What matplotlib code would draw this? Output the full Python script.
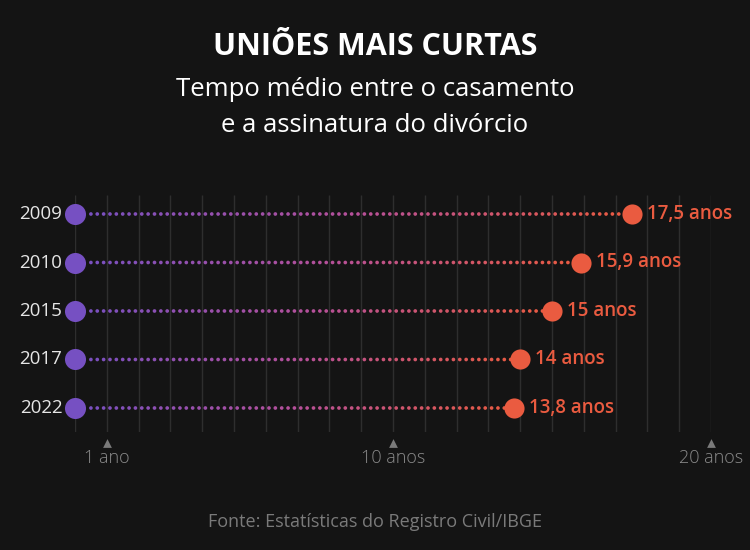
import numpy as np
import matplotlib
matplotlib.use("Agg")
import matplotlib.pyplot as plt
from matplotlib.colors import LinearSegmentedColormap
from matplotlib.transforms import blended_transform_factory

# ---- data ----
years = ["2009", "2010", "2015", "2017", "2022"]
start_values = [0, 0, 0, 0, 0]
end_values = [17.5, 15.9, 15.0, 14.0, 13.8]
value_labels = ["17,5 anos", "15,9 anos", "15 anos", "14 anos", "13,8 anos"]
axis_ticks = [1, 10, 20]
axis_labels = ["1 ano", "10 anos", "20 anos"]

BG = "#141414"
PURPLE = "#7650c2"
RED = "#ea5b40"
GRID = "#2e2e2e"
FONT = "Open Sans"

plt.rcParams["font.family"] = [FONT, "DejaVu Sans"]

fig = plt.figure(figsize=(7.5, 5.5), dpi=100, facecolor=BG)
W, H = 750, 550
x0, x1 = 75, 711
ytop, ybot = 195, 432
ax = fig.add_axes([x0 / W, 1 - ybot / H, (x1 - x0) / W, (ybot - ytop) / H])
ax.set_facecolor(BG)
ax.set_xlim(0, 20)
row_px = 48.5
ax.set_ylim(4 + (ybot - 408) / row_px, -(214 - ytop) / row_px)
for s in ax.spines.values():
    s.set_visible(False)
ax.set_xticks([])
ax.set_yticks([])

# vertical grid lines every year
ax.vlines(np.arange(0, 21), 0, 1, transform=blended_transform_factory(ax.transData, ax.transAxes),
          colors=GRID, linewidth=1.0, zorder=0)

cmap = LinearSegmentedColormap.from_list("pr", [PURPLE, "#b5509a", RED])
ypos = np.arange(len(years))
for i, (yr, s, e, lab) in enumerate(zip(years, start_values, end_values, value_labels)):
    pts = np.arange(s + 0.5, e - 0.25, 0.2)
    frac = (pts - s) / (e - s)
    ax.scatter(pts, np.full_like(pts, ypos[i]), s=7, c=cmap(frac), linewidths=0, zorder=2)
    ax.scatter([s], [ypos[i]], s=230, color=PURPLE, linewidths=0, zorder=3, clip_on=False)
    ax.scatter([e], [ypos[i]], s=210, color=RED, linewidths=0, zorder=3, clip_on=False)
    ax.annotate(lab, (e, ypos[i]), xytext=(11, 0), textcoords="offset points",
                ha="left", va="center", color=RED, fontsize=13.5, fontweight="semibold")
    ax.annotate(yr, (s, ypos[i]), xytext=(-9, 0), textcoords="offset points",
                ha="right", va="center", color="#e6e6e6", fontsize=13.5)

# bottom axis markers
btr = blended_transform_factory(ax.transData, ax.transAxes)
ax.scatter(axis_ticks, [-0.045] * len(axis_ticks), marker="^", s=40, color="#7a7a7a",
           linewidths=0, transform=btr, clip_on=False)
for t, lab in zip(axis_ticks, axis_labels):
    ax.text(t, -0.11, lab, transform=btr, ha="center", va="center", color="#8a8a8a",
            fontsize=13, fontweight="light")

fig.text(0.5, 1 - 47 / H, "UNIÕES MAIS CURTAS", ha="center", va="center", color="white",
         fontsize=22, fontweight="bold")
fig.text(0.5, 1 - 90 / H, "Tempo médio entre o casamento", ha="center", va="center",
         color="white", fontsize=18.5)
fig.text(0.5, 1 - 126 / H, "e a assinatura do divórcio", ha="center", va="center",
         color="white", fontsize=18.5)
fig.text(0.5, 1 - 522 / H, "Fonte: Estatísticas do Registro Civil/IBGE", ha="center",
         va="center", color="#7a7a7a", fontsize=13)

fig.savefig("out.png", dpi=100, facecolor=BG)
